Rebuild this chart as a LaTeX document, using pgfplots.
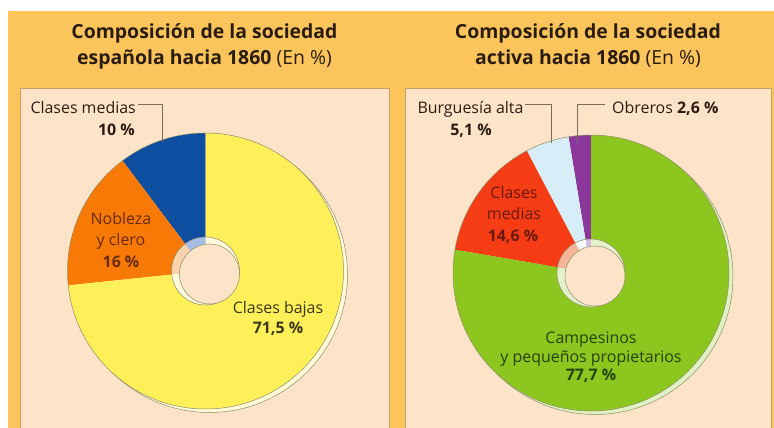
\documentclass[border=0pt]{standalone}
\usepackage{pgfplots}
\pgfplotsset{compat=1.18}
\usepackage{pgfplotstable}
\usepackage{fontspec}
\setmainfont{Open Sans}

\definecolor{gold}{HTML}{FBC55C}
\definecolor{peach}{HTML}{FDE4C8}
\definecolor{boxline}{HTML}{C9A064}
\definecolor{cYel}{HTML}{FFF05A}
\definecolor{cYelS}{HTML}{FFFAD8}
\definecolor{cBlue}{HTML}{0D4EA0}
\definecolor{cOra}{HTML}{F87A06}
\definecolor{cGreen}{HTML}{8CC61E}
\definecolor{cGreenS}{HTML}{E0F2C4}
\definecolor{cRed}{HTML}{F53C14}
\definecolor{cLBlue}{HTML}{D7EDF8}
\definecolor{cPurp}{HTML}{8C379B}
\definecolor{wBlue}{HTML}{A6BEE4}
\definecolor{wOra}{HTML}{FAD3AE}
\definecolor{wYel}{HTML}{FFFADC}
\definecolor{wPurp}{HTML}{D4BCDE}
\definecolor{wLBlue}{HTML}{F4FAFD}
\definecolor{wRed}{HTML}{F6B697}
\definecolor{wGreen}{HTML}{E4F2CC}
\definecolor{pieline}{HTML}{8E8C64}
\definecolor{txt}{HTML}{2B1C12}
\definecolor{conn}{HTML}{7A6A58}
\definecolor{tOra}{HTML}{6A2A0C}
\definecolor{tYel}{HTML}{3A3616}
\definecolor{tRed}{HTML}{6A1A0C}
\definecolor{tGreen}{HTML}{24420C}

\pgfplotstableread{
grupo valor
medias 10
nobleza 16
bajas 71.5
}\tablaA
\pgfplotstableread{
grupo valor
obreros 2.6
burguesia 5.1
medias 14.6
campesinos 77.7
}\tablaB

% slice: cx, cy, R, start angle, end angle, colour
\newcommand\slice[6]{%
  \addplot[fill=#6, draw=none, domain=#4:#5, samples=90, variable=\t]
    ({#1+#3*cos(\t)},{#2+#3*sin(\t)}) -- (axis cs:#1,#2) -- cycle;}

\newcommand\ttl{\fontsize{19.5}{21}\selectfont\bfseries}
\newcommand\lbl{\fontsize{16}{19}\selectfont}

\begin{document}%
\begin{tikzpicture}
\pgfplotstablegetelem{0}{valor}\of\tablaA \let\vAa\pgfplotsretval
\pgfplotstablegetelem{1}{valor}\of\tablaA \let\vAb\pgfplotsretval
\pgfplotstablegetelem{2}{valor}\of\tablaA \let\vAc\pgfplotsretval
\pgfmathsetmacro\sA{\vAa+\vAb+\vAc}
\pgfmathsetmacro\Aa{90+360*\vAa/\sA}
\pgfmathsetmacro\Ab{\Aa+360*\vAb/\sA}
\pgfplotstablegetelem{0}{valor}\of\tablaB \let\vBa\pgfplotsretval
\pgfplotstablegetelem{1}{valor}\of\tablaB \let\vBb\pgfplotsretval
\pgfplotstablegetelem{2}{valor}\of\tablaB \let\vBc\pgfplotsretval
\pgfplotstablegetelem{3}{valor}\of\tablaB \let\vBd\pgfplotsretval
\pgfmathsetmacro\sB{\vBa+\vBb+\vBc+\vBd}
\pgfmathsetmacro\Ba{90+360*\vBa/\sB}
\pgfmathsetmacro\Bb{\Ba+360*\vBb/\sB}
\pgfmathsetmacro\Bc{\Bb+360*\vBc/\sB}
\begin{axis}[x=1bp, y=1bp, xmin=0, xmax=774, ymin=0, ymax=428,
  hide axis, xtick=\empty, ytick=\empty, clip=true,
  at={(0,0)}, anchor=south west]
% backgrounds
\fill[white] (axis cs:0,0) rectangle (axis cs:774,428);
\fill[gold] (axis cs:8,0) rectangle (axis cs:774,417);
\filldraw[fill=peach, draw=boxline, line width=0.8bp] (axis cs:20.5,-5) rectangle (axis cs:389,340);
\filldraw[fill=peach, draw=boxline, line width=0.8bp] (axis cs:405,-5) rectangle (axis cs:771,340);
% shadows
\filldraw[fill=cYelS, draw=pieline, line width=0.5bp] (axis cs:209.5,153.5) circle[radius=138bp];
\filldraw[fill=cGreenS, draw=pieline, line width=0.5bp] (axis cs:595,151.5) circle[radius=138bp];
% left pie
\slice{205.5}{157}{138}{90}{\Aa}{cBlue}
\slice{205.5}{157}{138}{\Aa}{\Ab}{cOra}
\slice{205.5}{157}{138}{\Ab}{450}{cYel}
\draw[pieline, line width=0.5bp] (axis cs:205.5,157) circle[radius=138bp];
\slice{205.5}{157}{34}{90}{\Aa}{wBlue}
\slice{205.5}{157}{34}{\Aa}{\Ab}{wOra}
\slice{205.5}{157}{34}{\Ab}{450}{wYel}
\draw[pieline, line width=0.5bp] (axis cs:205.5,157) circle[radius=34bp];
\filldraw[fill=peach, draw=pieline, line width=0.5bp] (axis cs:209.5,154) circle[radius=30bp];
% right pie
\slice{591}{155}{138}{90}{\Ba}{cPurp}
\slice{591}{155}{138}{\Ba}{\Bb}{cLBlue}
\slice{591}{155}{138}{\Bb}{\Bc}{cRed}
\slice{591}{155}{138}{\Bc}{450}{cGreen}
\draw[pieline, line width=0.5bp] (axis cs:591,155) circle[radius=138bp];
\slice{591}{155}{34}{90}{\Ba}{wPurp}
\slice{591}{155}{34}{\Ba}{\Bb}{wLBlue}
\slice{591}{155}{34}{\Bb}{\Bc}{wRed}
\slice{591}{155}{34}{\Bc}{450}{wGreen}
\draw[pieline, line width=0.5bp] (axis cs:591,155) circle[radius=34bp];
\filldraw[fill=peach, draw=pieline, line width=0.5bp] (axis cs:595,152) circle[radius=30bp];
% titles
\node[anchor=base, font=\ttl, text=txt] at (axis cs:204.5,389) {Composición de la sociedad};
\node[anchor=base, font=\ttl, text=txt] at (axis cs:204.5,364) {española hacia 1860 {\mdseries (En~\%)}};
\node[anchor=base, font=\ttl, text=txt] at (axis cs:588,389) {Composición de la sociedad};
\node[anchor=base, font=\ttl, text=txt] at (axis cs:588,364) {activa hacia 1860 {\mdseries (En~\%)}};
% left labels
\node[anchor=base east, font=\lbl, text=txt, inner sep=0pt] at (axis cs:136,315) {Clases medias};
\node[anchor=base east, font=\lbl\bfseries, text=txt, inner sep=0pt] at (axis cs:135,293) {10~\%};
\draw[conn, line width=0.8bp] (axis cs:138,324) -- (axis cs:162,324) -- (axis cs:162,286);
\node[anchor=base, font=\lbl, text=tOra, inner sep=0pt] at (axis cs:121,204) {Nobleza};
\node[anchor=base, font=\lbl, text=tOra, inner sep=0pt] at (axis cs:121,182.5) {y clero};
\node[anchor=base, font=\lbl\bfseries, text=tOra, inner sep=0pt] at (axis cs:121,161) {16~\%};
\node[anchor=base, font=\lbl, text=tYel, inner sep=0pt] at (axis cs:278,115) {Clases bajas};
\node[anchor=base, font=\lbl\bfseries, text=tYel, inner sep=0pt] at (axis cs:278,95) {71,5~\%};
% right labels
\node[anchor=base, font=\lbl, text=txt, inner sep=0pt] at (axis cs:470.5,315) {Burguesía alta};
\node[anchor=base, font=\lbl\bfseries, text=txt, inner sep=0pt] at (axis cs:471,293) {5,1~\%};
\draw[conn, line width=0.8bp] (axis cs:525,323.5) -- (axis cs:551.5,323.5) -- (axis cs:551.5,285);
\draw[conn, line width=0.8bp] (axis cs:577,285) -- (axis cs:577,323.5) -- (axis cs:605,323.5);
\node[anchor=base west, font=\lbl, text=txt, inner sep=0pt] at (axis cs:612,315) {Obreros \textbf{2,6~\%}};
\node[anchor=base, font=\lbl, text=tRed, inner sep=0pt] at (axis cs:514,230) {Clases};
\node[anchor=base, font=\lbl, text=tRed, inner sep=0pt] at (axis cs:514,208.5) {medias};
\node[anchor=base, font=\lbl\bfseries, text=tRed, inner sep=0pt] at (axis cs:513,187) {14,6~\%};
\node[anchor=base, font=\lbl, text=tGreen, inner sep=0pt] at (axis cs:591,85) {Campesinos};
\node[anchor=base, font=\lbl, text=tGreen, inner sep=0pt] at (axis cs:591,66) {y pequeños propietarios};
\node[anchor=base, font=\lbl\bfseries, text=tGreen, inner sep=0pt] at (axis cs:591,48) {77,7~\%};
\end{axis}
\pgfresetboundingbox
\path[use as bounding box] (0,0) rectangle (774bp,428bp);
\end{tikzpicture}%
\end{document}
